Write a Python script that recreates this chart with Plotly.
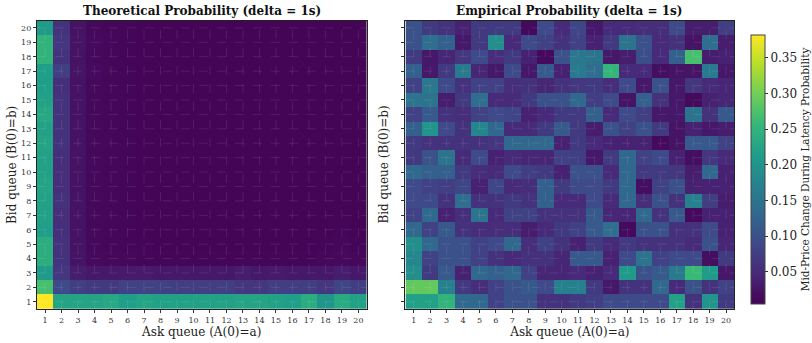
import plotly.graph_objects as go

asks = list(range(1, 21))
bids = list(range(1, 21))

# Theoretical probability, rows b = 1..20, columns a = 1..20
theo = [
    [0.382, 0.225, 0.225, 0.225, 0.23, 0.215, 0.225, 0.22, 0.22, 0.22, 0.22, 0.22, 0.225, 0.225, 0.22, 0.215, 0.24, 0.20, 0.235, 0.22],
    [0.27, 0.09, 0.075, 0.07, 0.07, 0.08, 0.08, 0.08, 0.075, 0.075, 0.075, 0.075, 0.065, 0.065, 0.075, 0.075, 0.075, 0.065, 0.085, 0.075],
    [0.21, 0.065, 0.035, 0.03, 0.03, 0.032, 0.032, 0.03, 0.03, 0.03, 0.03, 0.03, 0.035, 0.03, 0.032, 0.03, 0.03, 0.03, 0.035, 0.03],
    [0.24, 0.06, 0.025, 0.015, 0.012, 0.012, 0.01, 0.01, 0.01, 0.01, 0.01, 0.01, 0.01, 0.01, 0.01, 0.01, 0.01, 0.012, 0.015, 0.012],
    [0.24, 0.06, 0.024, 0.014, 0.011, 0.01, 0.01, 0.009, 0.009, 0.009, 0.009, 0.009, 0.009, 0.009, 0.009, 0.009, 0.009, 0.01, 0.011, 0.01],
    [0.215, 0.055, 0.023, 0.014, 0.011, 0.01, 0.009, 0.009, 0.009, 0.009, 0.009, 0.009, 0.009, 0.009, 0.009, 0.009, 0.009, 0.009, 0.01, 0.009],
    [0.22, 0.055, 0.023, 0.014, 0.011, 0.01, 0.009, 0.009, 0.009, 0.009, 0.009, 0.009, 0.009, 0.009, 0.009, 0.009, 0.009, 0.009, 0.009, 0.009],
    [0.22, 0.06, 0.024, 0.014, 0.011, 0.01, 0.009, 0.009, 0.009, 0.009, 0.009, 0.009, 0.009, 0.009, 0.009, 0.009, 0.009, 0.009, 0.009, 0.009],
    [0.225, 0.055, 0.023, 0.014, 0.011, 0.01, 0.009, 0.009, 0.009, 0.009, 0.009, 0.009, 0.009, 0.009, 0.009, 0.009, 0.009, 0.009, 0.009, 0.009],
    [0.22, 0.055, 0.023, 0.014, 0.011, 0.01, 0.009, 0.009, 0.009, 0.009, 0.009, 0.009, 0.009, 0.009, 0.009, 0.009, 0.009, 0.009, 0.009, 0.009],
    [0.22, 0.055, 0.023, 0.014, 0.011, 0.01, 0.009, 0.009, 0.009, 0.009, 0.009, 0.009, 0.009, 0.009, 0.009, 0.009, 0.009, 0.009, 0.009, 0.009],
    [0.225, 0.06, 0.024, 0.014, 0.011, 0.01, 0.009, 0.009, 0.009, 0.009, 0.009, 0.009, 0.009, 0.009, 0.009, 0.009, 0.009, 0.009, 0.009, 0.009],
    [0.22, 0.06, 0.024, 0.014, 0.011, 0.01, 0.009, 0.009, 0.009, 0.009, 0.009, 0.009, 0.009, 0.009, 0.009, 0.009, 0.009, 0.009, 0.009, 0.009],
    [0.23, 0.06, 0.024, 0.014, 0.011, 0.01, 0.009, 0.009, 0.009, 0.009, 0.009, 0.009, 0.009, 0.009, 0.009, 0.009, 0.009, 0.009, 0.009, 0.009],
    [0.22, 0.06, 0.024, 0.014, 0.011, 0.01, 0.009, 0.009, 0.009, 0.009, 0.009, 0.009, 0.009, 0.009, 0.009, 0.009, 0.009, 0.009, 0.009, 0.009],
    [0.215, 0.055, 0.023, 0.014, 0.011, 0.01, 0.009, 0.009, 0.009, 0.009, 0.009, 0.009, 0.009, 0.009, 0.009, 0.009, 0.009, 0.009, 0.009, 0.009],
    [0.215, 0.075, 0.025, 0.015, 0.011, 0.01, 0.009, 0.009, 0.009, 0.009, 0.009, 0.009, 0.009, 0.009, 0.009, 0.009, 0.009, 0.009, 0.009, 0.009],
    [0.25, 0.06, 0.024, 0.014, 0.011, 0.01, 0.009, 0.009, 0.009, 0.009, 0.009, 0.009, 0.009, 0.009, 0.009, 0.009, 0.009, 0.009, 0.009, 0.009],
    [0.25, 0.065, 0.025, 0.015, 0.011, 0.01, 0.009, 0.009, 0.009, 0.009, 0.009, 0.009, 0.009, 0.009, 0.009, 0.009, 0.009, 0.009, 0.009, 0.009],
    [0.21, 0.06, 0.024, 0.014, 0.011, 0.01, 0.009, 0.009, 0.009, 0.009, 0.009, 0.009, 0.009, 0.009, 0.009, 0.009, 0.009, 0.009, 0.009, 0.009],
]

# Empirical probability, rows b = 1..20, columns a = 1..20
emp = [
    [0.22, 0.22, 0.25, 0.13, 0.13, 0.08, 0.10, 0.10, 0.06, 0.06, 0.07, 0.075, 0.09, 0.09, 0.09, 0.09, 0.22, 0.06, 0.20, 0.07],
    [0.29, 0.29, 0.17, 0.07, 0.055, 0.08, 0.10, 0.11, 0.09, 0.17, 0.17, 0.07, 0.03, 0.06, 0.06, 0.13, 0.05, 0.10, 0.06, 0.08],
    [0.19, 0.07, 0.11, 0.04, 0.13, 0.12, 0.13, 0.08, 0.045, 0.045, 0.05, 0.04, 0.05, 0.21, 0.10, 0.11, 0.16, 0.26, 0.21, 0.03],
    [0.18, 0.08, 0.10, 0.10, 0.08, 0.06, 0.05, 0.06, 0.06, 0.045, 0.11, 0.11, 0.04, 0.09, 0.15, 0.08, 0.09, 0.09, 0.02, 0.07],
    [0.19, 0.13, 0.10, 0.10, 0.08, 0.09, 0.13, 0.055, 0.08, 0.06, 0.04, 0.07, 0.05, 0.07, 0.06, 0.06, 0.06, 0.05, 0.10, 0.045],
    [0.13, 0.08, 0.11, 0.06, 0.055, 0.055, 0.055, 0.035, 0.05, 0.07, 0.08, 0.11, 0.14, 0.015, 0.10, 0.10, 0.06, 0.06, 0.09, 0.04],
    [0.08, 0.13, 0.04, 0.055, 0.15, 0.05, 0.08, 0.08, 0.06, 0.06, 0.06, 0.11, 0.045, 0.045, 0.13, 0.06, 0.11, 0.015, 0.04, 0.04],
    [0.09, 0.09, 0.06, 0.14, 0.06, 0.06, 0.07, 0.06, 0.12, 0.05, 0.05, 0.09, 0.05, 0.13, 0.055, 0.10, 0.06, 0.17, 0.075, 0.035],
    [0.09, 0.08, 0.075, 0.085, 0.04, 0.085, 0.05, 0.055, 0.12, 0.07, 0.09, 0.09, 0.07, 0.13, 0.02, 0.08, 0.10, 0.04, 0.04, 0.04],
    [0.13, 0.12, 0.12, 0.07, 0.055, 0.05, 0.09, 0.075, 0.07, 0.04, 0.10, 0.10, 0.05, 0.13, 0.07, 0.07, 0.065, 0.035, 0.13, 0.04],
    [0.07, 0.10, 0.15, 0.05, 0.09, 0.04, 0.05, 0.045, 0.045, 0.08, 0.075, 0.03, 0.07, 0.13, 0.08, 0.09, 0.04, 0.02, 0.065, 0.05],
    [0.07, 0.06, 0.06, 0.06, 0.06, 0.065, 0.13, 0.13, 0.13, 0.04, 0.07, 0.05, 0.04, 0.04, 0.04, 0.015, 0.025, 0.11, 0.11, 0.08],
    [0.12, 0.20, 0.09, 0.06, 0.18, 0.13, 0.05, 0.05, 0.07, 0.11, 0.07, 0.035, 0.10, 0.08, 0.10, 0.07, 0.025, 0.04, 0.03, 0.035],
    [0.08, 0.11, 0.06, 0.055, 0.08, 0.09, 0.085, 0.04, 0.05, 0.07, 0.07, 0.12, 0.05, 0.09, 0.075, 0.03, 0.03, 0.15, 0.06, 0.11],
    [0.15, 0.15, 0.035, 0.07, 0.14, 0.05, 0.05, 0.07, 0.10, 0.10, 0.13, 0.075, 0.09, 0.025, 0.12, 0.06, 0.03, 0.015, 0.04, 0.045],
    [0.08, 0.155, 0.09, 0.06, 0.08, 0.08, 0.055, 0.06, 0.045, 0.06, 0.065, 0.07, 0.055, 0.09, 0.03, 0.10, 0.03, 0.065, 0.05, 0.045],
    [0.12, 0.03, 0.07, 0.16, 0.045, 0.03, 0.09, 0.03, 0.11, 0.04, 0.16, 0.14, 0.255, 0.05, 0.05, 0.02, 0.025, 0.025, 0.16, 0.03],
    [0.07, 0.03, 0.045, 0.065, 0.09, 0.055, 0.07, 0.04, 0.015, 0.10, 0.155, 0.15, 0.03, 0.035, 0.095, 0.05, 0.12, 0.27, 0.035, 0.04],
    [0.10, 0.14, 0.12, 0.03, 0.07, 0.19, 0.05, 0.09, 0.08, 0.06, 0.08, 0.04, 0.07, 0.15, 0.10, 0.05, 0.06, 0.025, 0.14, 0.035],
    [0.10, 0.07, 0.06, 0.04, 0.07, 0.07, 0.07, 0.015, 0.09, 0.05, 0.085, 0.03, 0.05, 0.05, 0.055, 0.055, 0.09, 0.035, 0.035, 0.075],
]

zmin, zmax = 0.005, 0.382
font_family = "DejaVu Serif"
W, H = 812, 343

fig = go.Figure()
fig.add_trace(go.Heatmap(
    z=theo, x=asks, y=bids, xaxis="x", yaxis="y",
    colorscale="Viridis", zmin=zmin, zmax=zmax, showscale=False,
))
fig.add_trace(go.Heatmap(
    z=emp, x=asks, y=bids, xaxis="x2", yaxis="y2",
    colorscale="Viridis", zmin=zmin, zmax=zmax, showscale=True,
    colorbar=dict(
        x=754 / W, xanchor="left", xref="paper", xpad=0, ypad=0,
        y=1 - (35 + 304) / 2 / H, yanchor="middle", len=(304 - 35) / H, lenmode="fraction",
        thickness=14, outlinecolor="#444", outlinewidth=1,
        tickvals=[0.05, 0.10, 0.15, 0.20, 0.25, 0.30, 0.35],
        ticktext=["0.05", "0.10", "0.15", "0.20", "0.25", "0.30", "0.35"],
        ticks="outside", ticklen=3, tickcolor="#333",
        tickfont=dict(family=font_family, size=12, color="#222"),
        title=dict(text="Mid-Price Change During Latency Probability", side="right",
                   font=dict(family=font_family, size=10.5, color="#222")),
    ),
))

axis_common = dict(
    tickmode="array", tickvals=asks, ticktext=[str(v) for v in asks],
    range=[0.5, 20.5], showgrid=False, zeroline=False,
    showline=True, linecolor="#222", linewidth=1, mirror=True,
    ticks="outside", ticklen=3, tickcolor="#333",
    tickfont=dict(family=font_family, size=8, color="#333"),
)
title_font = dict(family=font_family, size=12, color="#222")

fig.update_layout(
    width=W, height=H,
    margin=dict(l=0, r=0, t=0, b=0),
    paper_bgcolor="white", plot_bgcolor="white",
    showlegend=False,
    xaxis=dict(axis_common, domain=[37 / W, 368 / W], anchor="y",
               title=dict(text="Ask queue (A(0)=a)", standoff=3, font=title_font)),
    yaxis=dict(axis_common, domain=[1 - 309 / H, 1 - 20.7 / H], anchor="x"),
    xaxis2=dict(axis_common, domain=[407 / W, 737 / W], anchor="y2",
                title=dict(text="Ask queue (A(0)=a)", standoff=3, font=title_font)),
    yaxis2=dict(axis_common, domain=[1 - 309 / H, 1 - 20.7 / H], anchor="x2",
                showticklabels=False),
)

# Y-axis titles
for xpx in [12, 385]:
    fig.add_annotation(x=xpx / W, y=1 - 165 / H, xref="paper", yref="paper",
                       xanchor="center", yanchor="middle", showarrow=False,
                       textangle=-90, text="Bid queue (B(0)=b)", font=title_font)

# Titles
for xd, txt in [((37 + 368) / 2 / W, "Theoretical Probability (delta = 1s)"),
                ((407 + 737) / 2 / W, "Empirical Probability (delta = 1s)")]:
    fig.add_annotation(x=xd, y=1 - 11 / H, xref="paper", yref="paper", xanchor="center",
                       yanchor="middle", showarrow=False, text="<b>%s</b>" % txt,
                       font=dict(family=font_family, size=12, color="#111"))

# Faint dashed grid lines above the heatmaps at each tick
shapes = []
for xr, yr in [("x", "y"), ("x2", "y2")]:
    for v in asks:
        shapes.append(dict(type="line", xref=xr, yref=yr, x0=v, x1=v, y0=0.5, y1=20.5,
                           line=dict(color="rgba(255,255,255,0.12)", width=0.8, dash="dash"),
                           layer="above"))
    for v in bids:
        shapes.append(dict(type="line", xref=xr, yref=yr, x0=0.5, x1=20.5, y0=v, y1=v,
                           line=dict(color="rgba(255,255,255,0.12)", width=0.8, dash="dash"),
                           layer="above"))
fig.update_layout(shapes=shapes)

fig.write_html("out.html")
